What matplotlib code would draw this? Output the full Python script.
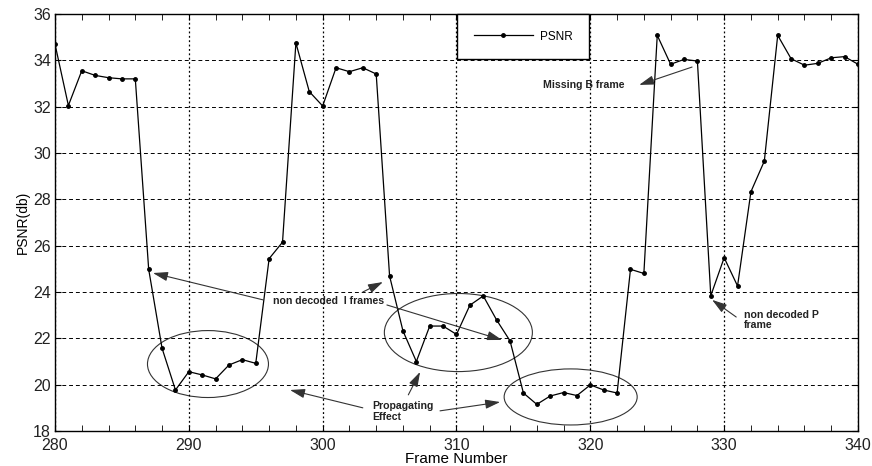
import matplotlib
matplotlib.use('Agg')
import matplotlib.pyplot as plt
from matplotlib.patches import Ellipse
from matplotlib.ticker import MultipleLocator

plt.rcParams['font.family'] = ['Liberation Sans', 'DejaVu Sans']

# PSNR per frame
frames = list(range(280, 341))
psnr = [34.7, 32.05, 33.55, 33.35, 33.25, 33.2, 33.2, 24.98, 21.57, 19.77,
        20.56, 20.42, 20.25, 20.85, 21.08, 20.92, 25.44, 26.15, 34.75, 32.65,
        32.03, 33.68, 33.51, 33.68, 33.41, 24.69, 22.32, 21.0, 22.53, 22.53,
        22.17, 23.43, 23.83, 22.79, 21.89, 19.64, 19.15, 19.51, 19.66, 19.53,
        19.99, 19.77, 19.64, 24.98, 24.8, 35.08, 33.83, 34.04, 33.97, 23.84,
        25.48, 24.26, 28.33, 29.65, 35.08, 34.07, 33.79, 33.87, 34.11, 34.16,
        33.83]

fig = plt.figure(figsize=(8.72, 4.66), dpi=100)
ax = fig.add_axes([55/872, 1 - 431/466, 803/872, 417/466])

ax.plot(frames, psnr, color='black', lw=0.9, marker='.', markersize=5, label='PSNR')

ax.set_xlim(280, 340)
ax.set_ylim(18, 36)
ax.xaxis.set_major_locator(MultipleLocator(10))
ax.xaxis.set_minor_locator(MultipleLocator(2))
ax.yaxis.set_major_locator(MultipleLocator(2))
ax.tick_params(which='both', direction='in', top=True, right=True, labelsize=11.5,
               labelcolor='#222222')
ax.tick_params(axis='x', pad=5)
ax.tick_params(axis='y', pad=3)
ax.tick_params(which='both', length=4)
for s in ax.spines.values():
    s.set_linewidth(1.0)

ax.yaxis.grid(True, linestyle=(0, (4, 3)), color='black', lw=0.7)
ax.xaxis.grid(True, linestyle=(0, (1.5, 2)), color='black', lw=0.9)

ax.set_xlabel('Frame Number', fontsize=11, labelpad=-1)
ax.set_ylabel('PSNR(db)', fontsize=10, labelpad=2)

leg = ax.legend(loc='upper left', bbox_to_anchor=(0.5006, 1.0), borderaxespad=0,
                fancybox=False, edgecolor='black', framealpha=1, fontsize=8.5,
                handlelength=5, borderpad=1.4, handletextpad=0.6)
leg.get_frame().set_linewidth(1.0)

# ellipses around the affected regions
ellipses = [(291.43, 20.89, 9.04, 2.89), (310.14, 22.25, 11.06, 3.37), (318.53, 19.47, 9.94, 2.42)]
for cx, cy, w, h in ellipses:
    ax.add_patch(Ellipse((cx, cy), w, h, fill=False, edgecolor='#333333', lw=0.8))

txt = dict(fontsize=7.6, fontweight='bold', color='#222222')
arrow = dict(arrowstyle='-|>,head_length=0.9,head_width=0.28', color='#333333', lw=0.8,
             shrinkA=0, shrinkB=0)

ax.text(316.5, 32.95, 'Missing B frame', ha='left', va='center', **txt)
ax.annotate('', xy=(323.65, 32.94), xytext=(327.6, 33.71), arrowprops=arrow)

ax.text(296.3, 23.6, 'non decoded  I frames', ha='left', va='center', **txt)
ax.annotate('', xy=(287.32, 24.82), xytext=(295.55, 23.66), arrowprops=arrow)
ax.annotate('', xy=(304.5, 24.43), xytext=(303.0, 24.0), arrowprops=arrow)
ax.annotate('', xy=(313.4, 21.93), xytext=(304.8, 23.44), arrowprops=arrow)

ax.text(303.7, 18.85, 'Propagating\nEffect', ha='left', va='center', linespacing=1.05, **txt)
ax.annotate('', xy=(297.56, 19.77), xytext=(303.0, 19.0), arrowprops=arrow)
ax.annotate('', xy=(307.28, 20.55), xytext=(306.4, 19.56), arrowprops=arrow)
ax.annotate('', xy=(313.26, 19.25), xytext=(308.77, 18.87), arrowprops=arrow)

ax.text(331.5, 22.78, 'non decoded P\nframe', ha='left', va='center', linespacing=1.05, **txt)
ax.annotate('', xy=(329.1, 23.66), xytext=(330.9, 22.92), arrowprops=arrow)

fig.savefig('out.png', dpi=100)
